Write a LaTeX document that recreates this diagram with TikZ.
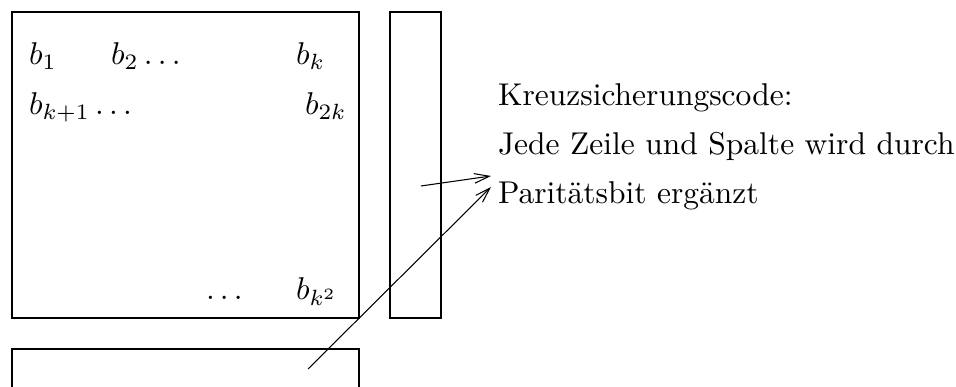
\RequirePackage{fix-cm}
\documentclass[tikz,border=0pt]{standalone}
\usetikzlibrary{arrows.meta}
\tikzset{
  box/.style={draw, line width=0.8pt},
  lbl/.style={anchor=base west, inner sep=0pt, outer sep=0pt, font=\fontsize{10.5pt}{12.6pt}\selectfont},
  conn/.style={line width=0.35pt, -{Straight Barb[length=5pt,width=3.2pt]}}
}
\begin{document}
\begin{tikzpicture}[x=0.3333pt,y=-0.3333pt]
\useasboundingbox (0,0) rectangle (956,387);
\clip (0,0) rectangle (956,387);
% boxes
\draw[box] (12,12) rectangle (359,318);
\draw[box] (390,12) rectangle (441,318);
\draw[box] (12,349) rectangle (359,420);
% matrix labels
\node[lbl] (b1) at (29,65) {$b_1$};
\node[lbl] (b2) at (111,65) {$b_2\ldots$};
\node[lbl] (bk) at (296,65) {$b_k$};
\node[lbl] (bk1) at (29,115) {$b_{k+1}\ldots$};
\node[lbl] (b2k) at (305,115) {$b_{2k}$};
\node[lbl] (dots) at (206,300) {$\ldots$};
\node[lbl] (bkk) at (296,300) {$b_{k^2}$};
% text
\node[lbl] (t1) at (498,106) {Kreuzsicherungscode:};
\node[lbl] (t2) at (498,155) {Jede Zeile und Spalte wird durch};
\node[lbl] (t3) at (498,204) {Paritätsbit ergänzt};
% connectors
\coordinate (s1) at (421,186);
\coordinate (e1) at (491,176);
\coordinate (s2) at (308,369);
\coordinate (e2) at (491,187);
\draw[conn] (s1) -- (e1);
\draw[conn] (s2) -- (e2);
\end{tikzpicture}
\end{document}
